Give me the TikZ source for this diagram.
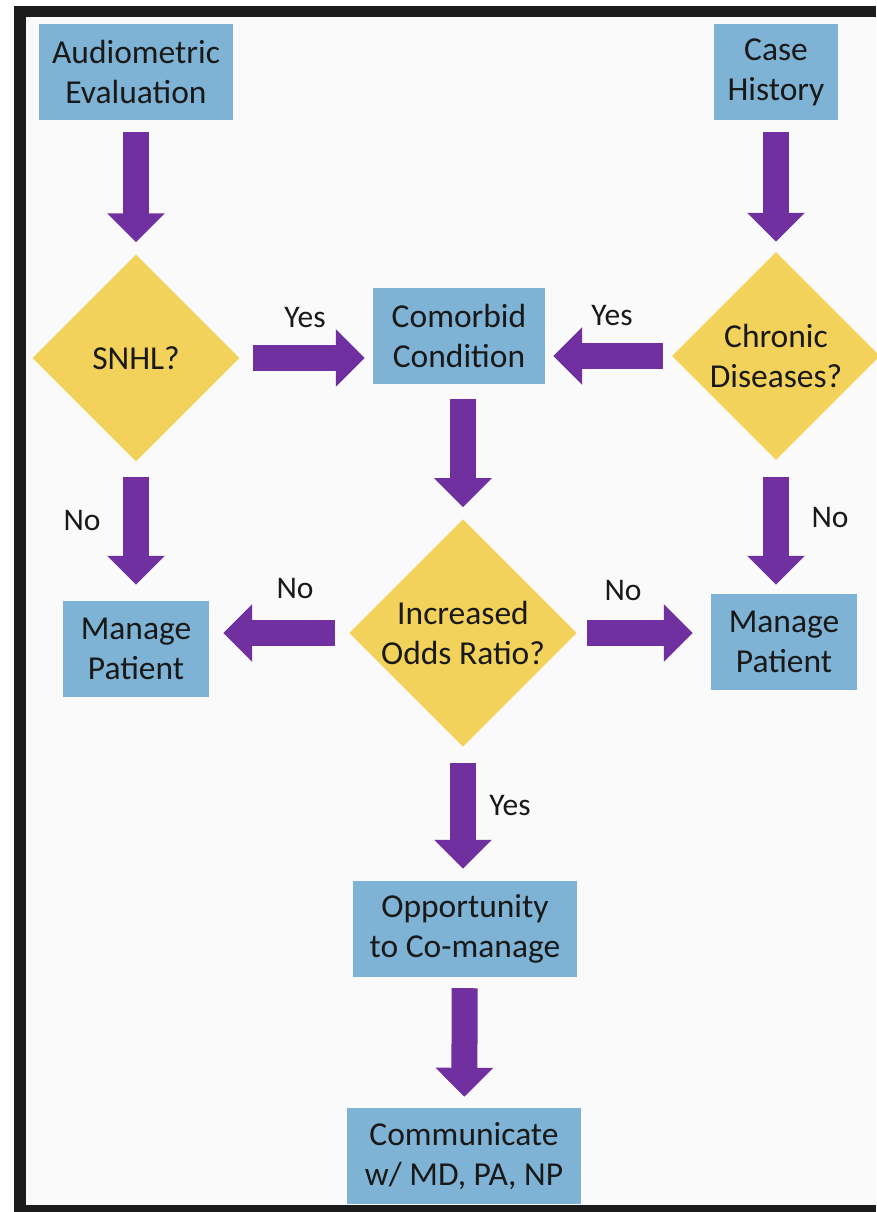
\documentclass[tikz,border=0pt]{standalone}
\usepackage{fontspec}
\setmainfont{Carlito}
\usepackage{tikz}
\usetikzlibrary{arrows.meta,positioning,calc,shapes.geometric}
\definecolor{boxblue}{RGB}{127,179,213}
\definecolor{qyellow}{RGB}{242,210,90}
\definecolor{flowpurple}{RGB}{112,48,160}
\definecolor{framedark}{HTML}{1c1c1c}

\begin{document}
\begin{tikzpicture}[x=1pt, y=-1pt,
  box/.style={fill=boxblue, minimum width=#1, minimum height=96pt, inner sep=0pt, align=center, text=black!90, font=\fontsize{33.5}{40}\selectfont},
  decision/.style={diamond, shape aspect=1, fill=qyellow, minimum size=#1, inner sep=0pt, align=center, text=black!90, font=\fontsize{33.5}{40}\selectfont},
  arrow/.style={-{Triangle[length=29pt, width=56pt]}, line width=26pt, draw=flowpurple},
  lbl/.style={font=\fontsize{31.5}{36}\selectfont, text=black!90},
]
  \useasboundingbox (0,0) rectangle (876,1212);
  \fill[framedark!2] (26,17) rectangle (876,1205);

  % Boxes
  \node[box=194pt] (audio) at (136, 72) {Audiometric\\Evaluation};
  \node[box=124pt] (hist) at (776, 72) {Case\\History};
  \node[box=172pt] (comorbid) at (459, 336) {Comorbid\\Condition};
  \node[box=146pt] (mgleft) at (136, 649) {Manage\\Patient};
  \node[box=146pt] (mgright) at (784, 642) {Manage\\Patient};
  \node[box=224pt] (oppor) at (465, 929) {Opportunity\\to Co-manage};
  \node[box=234pt] (commun) at (464, 1156) {Communicate\\w/ MD, PA, NP};

  % Decisions
  \node[decision=207pt] (snhl) at (136, 358) {SNHL?};
  \node[decision=208pt] (chronic) at (776, 356) {Chronic\\Diseases?};
  \node[decision=220pt] (odds) at (463, 633) {Increased\\Odds Ratio?};

  % Arrows
  \draw[arrow, shorten <=12pt, shorten >=12pt] (audio) -- (snhl);
  \draw[arrow, shorten <=12pt, shorten >=10pt] (hist) -- (chronic);
  \draw[arrow, shorten <=13pt, shorten >=8pt] (snhl.east) -- (snhl.east -| comorbid.west);
  \draw[arrow, shorten <=9pt, shorten >=8pt] (chronic.west) -- (chronic.west -| comorbid.east);
  \draw[arrow, shorten <=15pt, shorten >=12pt] (comorbid.south -| odds) -- (odds.north);
  \draw[arrow, shorten <=15pt, shorten >=16pt] (snhl.south) -- (mgleft.north);
  \draw[arrow, shorten <=17pt, shorten >=9pt] (chronic.south) -- (chronic.south |- mgright.north);
  \draw[arrow, shorten <=14pt, shorten >=14pt] (odds.west) -- (odds.west -| mgleft.east);
  \draw[arrow, shorten <=10pt, shorten >=18pt] (odds.east) -- (odds.east -| mgright.west);
  \draw[arrow, shorten <=16pt, shorten >=12pt] (odds.south) -- (odds.south |- oppor.north);
  \draw[arrow, shorten <=11pt, shorten >=11pt] (oppor) -- (commun);

  % Labels
  \node[lbl] (yesl) at (305, 318) {Yes};
  \node[lbl] (yesr) at (612, 316) {Yes};
  \node[lbl] (nol) at (82, 520) {No};
  \node[lbl] (nor) at (830, 517) {No};
  \node[lbl] (nomid) at (295, 588) {No};
  \node[lbl] (noright) at (623, 590) {No};
  \node[lbl] (yesdown) at (510, 805) {Yes};

  % Frame
  \fill[framedark] (14,6) rectangle (876,17);
  \fill[framedark] (14,6) rectangle (26,1212);
  \fill[framedark] (14,1205) rectangle (876,1212);
\end{tikzpicture}
\end{document}
